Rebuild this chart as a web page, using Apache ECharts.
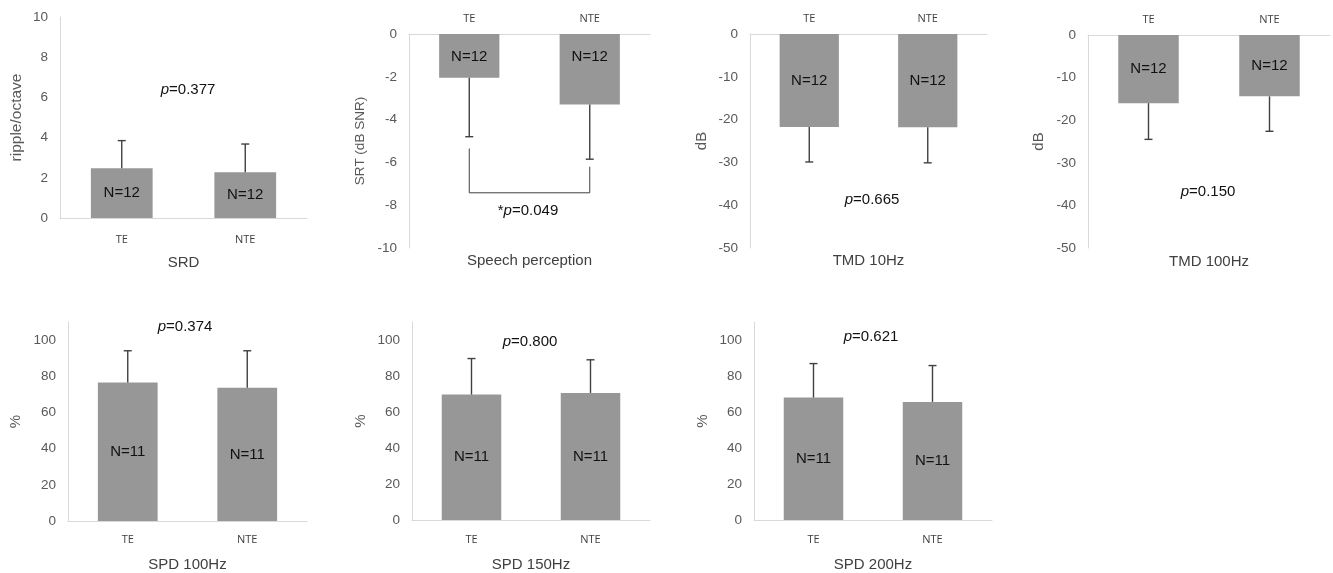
<!DOCTYPE html>
<html><head><meta charset="utf-8">
<script src="https://cdn.jsdelivr.net/npm/echarts@6/dist/echarts.min.js"></script>
<style>html,body{margin:0;padding:0;background:#fff}#c{width:1333px;height:573px}</style>
</head><body><div id="c"></div>
<script>
// ---- data ----
const categories = ['TE', 'NTE'];
const srdMean = [2.47, 2.27];      const srdSD = [1.38, 1.41];      const srdN = [12, 12];
const speechMean = [-2.04, -3.29]; const speechSD = [2.76, 2.56];   const speechN = [12, 12];
const tmd10Mean = [-21.7, -21.8];  const tmd10SD = [8.2, 8.3];      const tmd10N = [12, 12];
const tmd100Mean = [-16.0, -14.4]; const tmd100SD = [8.5, 8.2];     const tmd100N = [12, 12];
const spd100Mean = [76.6, 73.6];   const spd100SD = [17.5, 20.5];   const spd100N = [11, 11];
const spd150Mean = [69.7, 70.6];   const spd150SD = [20.0, 18.4];   const spd150N = [11, 11];
const spd200Mean = [68.0, 65.6];   const spd200SD = [18.9, 20.2];   const spd200N = [11, 11];
const pTexts = ['0.377', '0.049', '0.665', '0.150', '0.374', '0.800', '0.621'];
const speechBracketEnds = [-5.35, -6.2];
const speechBracketLevel = -7.42;

// ---- layout ----
const panels = [
  {title:'SRD', yName:'ripple/octave', yFs:15.5, mean:srdMean, sd:srdSD, n:srdN, min:0, max:10, interval:2, neg:false,
   g:[60,17,247,201], yGap:35, xGap:37, lblMargin:16, p:[188,90], star:false},
  {title:'Speech perception', yName:'SRT (dB SNR)', yFs:13.5, mean:speechMean, sd:speechSD, n:speechN, min:-10, max:0, interval:2, neg:true,
   g:[409,34,241,214], yGap:42, xGap:5, lblMargin:10, p:[528,211], star:true, labelTop:true},
  {title:'TMD 10Hz', yName:'dB', yFs:15, mean:tmd10Mean, sd:tmd10SD, n:tmd10N, min:-50, max:0, interval:10, neg:true,
   g:[750,34,237,214], yGap:41, xGap:5, lblMargin:10, p:[872,200], star:false},
  {title:'TMD 100Hz', yName:'dB', yFs:15, mean:tmd100Mean, sd:tmd100SD, n:tmd100N, min:-50, max:0, interval:10, neg:true,
   g:[1088,35,242,213], yGap:42, xGap:6, lblMargin:10, p:[1208,192], star:false},
  {title:'SPD 100Hz', yName:'%', yFs:15, mean:spd100Mean, sd:spd100SD, n:spd100N, min:0, max:110, interval:20, neg:false,
   g:[68,322,239,200], yGap:45, xGap:36, lblMargin:13, p:[185,327], star:false},
  {title:'SPD 150Hz', yName:'%', yFs:15, mean:spd150Mean, sd:spd150SD, n:spd150N, min:0, max:110, interval:20, neg:false,
   g:[412,322,238,199], yGap:44, xGap:37, lblMargin:14, p:[530,342], star:false},
  {title:'SPD 200Hz', yName:'%', yFs:15, mean:spd200Mean, sd:spd200SD, n:spd200N, min:0, max:110, interval:20, neg:false,
   g:[754,322,238,199], yGap:44, xGap:37, lblMargin:14, p:[871,337], star:false}
];

const AXC = '#d9d9d9';
const grid = [], xAxis = [], yAxis = [], series = [], graphic = [];
const nameStyle = {fontFamily:'Liberation Sans', fontSize:15, color:'#404040'};

panels.forEach((P, i) => {
  grid.push({left:P.g[0], top:P.g[1], width:P.g[2], height:P.g[3]});
  const xi = xAxis.length;
  xAxis.push({
    type:'category', gridIndex:i, data:categories, position:P.neg ? 'top' : 'bottom',
    axisLine:{show:true, onZero:false, lineStyle:{color:AXC, width:1}},
    axisTick:{show:false},
    axisLabel:{fontFamily:'Open Sans', fontSize:11, color:'#404040', margin:P.lblMargin},
    name:P.neg ? '' : P.title, nameLocation:'middle', nameGap:P.xGap, nameTextStyle:nameStyle
  });
  if (P.neg) {
    xAxis.push({
      type:'category', gridIndex:i, data:categories, position:'bottom',
      axisLine:{show:false}, axisTick:{show:false}, axisLabel:{show:false},
      name:P.title, nameLocation:'middle', nameGap:P.xGap, nameTextStyle:nameStyle
    });
  }
  yAxis.push({
    type:'value', gridIndex:i, min:P.min, max:P.max, interval:P.interval,
    axisLine:{show:true, lineStyle:{color:AXC, width:1}},
    axisTick:{show:false}, splitLine:{show:false},
    axisLabel:{fontFamily:'Liberation Sans', fontSize:13.5, color:'#595959', margin:12,
      formatter:(v) => (P.max === 110 && v > 100) ? '' : String(v)},
    name:P.yName, nameLocation:'middle', nameGap:P.yGap,
    nameTextStyle:{fontFamily:'Liberation Sans', fontSize:P.yFs, color:'#595959'}
  });
  series.push({
    type:'bar', xAxisIndex:xi, yAxisIndex:i, data:P.mean, barWidth:'50%', silent:true,
    itemStyle:{color:'#979797'},
    label:{show:true, position:P.labelTop ? 'insideTop' : 'inside', distance:P.labelTop ? 15 : 5,
      formatter:(pr) => 'N=' + P.n[pr.dataIndex],
      fontFamily:'Liberation Sans', fontSize:15, color:'#111'}
  });
  series.push({
    type:'custom', xAxisIndex:xi, yAxisIndex:i, silent:true, z:5,
    data:P.mean.map((m, j) => [j, m, m + Math.sign(m) * P.sd[j]]),
    renderItem:(params, api) => {
      const a = api.coord([api.value(0), api.value(1)]);
      const b = api.coord([api.value(0), api.value(2)]);
      const st = {stroke:'#404040', lineWidth:1.4};
      return {type:'group', children:[
        {type:'line', shape:{x1:a[0], y1:a[1], x2:b[0], y2:b[1]}, style:st},
        {type:'line', shape:{x1:b[0]-4, y1:b[1], x2:b[0]+4, y2:b[1]}, style:st}
      ]};
    }
  });
  if (P.star) {
    series.push({
      type:'custom', xAxisIndex:xi, yAxisIndex:i, silent:true, z:5,
      data:[[0, 1, speechBracketEnds[0], speechBracketEnds[1], speechBracketLevel]],
      renderItem:(params, api) => {
        const a0 = api.coord([api.value(0), api.value(2)]);
        const a1 = api.coord([api.value(0), api.value(4)]);
        const b0 = api.coord([api.value(1), api.value(3)]);
        const b1 = api.coord([api.value(1), api.value(4)]);
        const st = {stroke:'#404040', lineWidth:1};
        return {type:'group', children:[
          {type:'line', shape:{x1:a0[0], y1:a0[1], x2:a1[0], y2:a1[1]}, style:st},
          {type:'line', shape:{x1:a1[0], y1:a1[1], x2:b1[0], y2:b1[1]}, style:st},
          {type:'line', shape:{x1:b0[0], y1:b0[1], x2:b1[0], y2:b1[1]}, style:st}
        ]};
      }
    });
  }
  graphic.push({
    type:'text', x:P.p[0], y:P.p[1], silent:true,
    style:{
      text:(P.star ? '*' : '') + '{i|p}=' + pTexts[i],
      rich:{i:{fontStyle:'italic', fontFamily:'Liberation Sans', fontSize:15, fill:'#111'}},
      fontFamily:'Liberation Sans', fontSize:15, fill:'#111',
      align:'center', verticalAlign:'middle', textAlign:'center', textVerticalAlign:'middle'
    }
  });
});

const chart = echarts.init(document.getElementById('c'), null, {renderer:'canvas'});
chart.setOption({animation:false, backgroundColor:'#fff', grid, xAxis, yAxis, series, graphic});
</script>
</body></html>
